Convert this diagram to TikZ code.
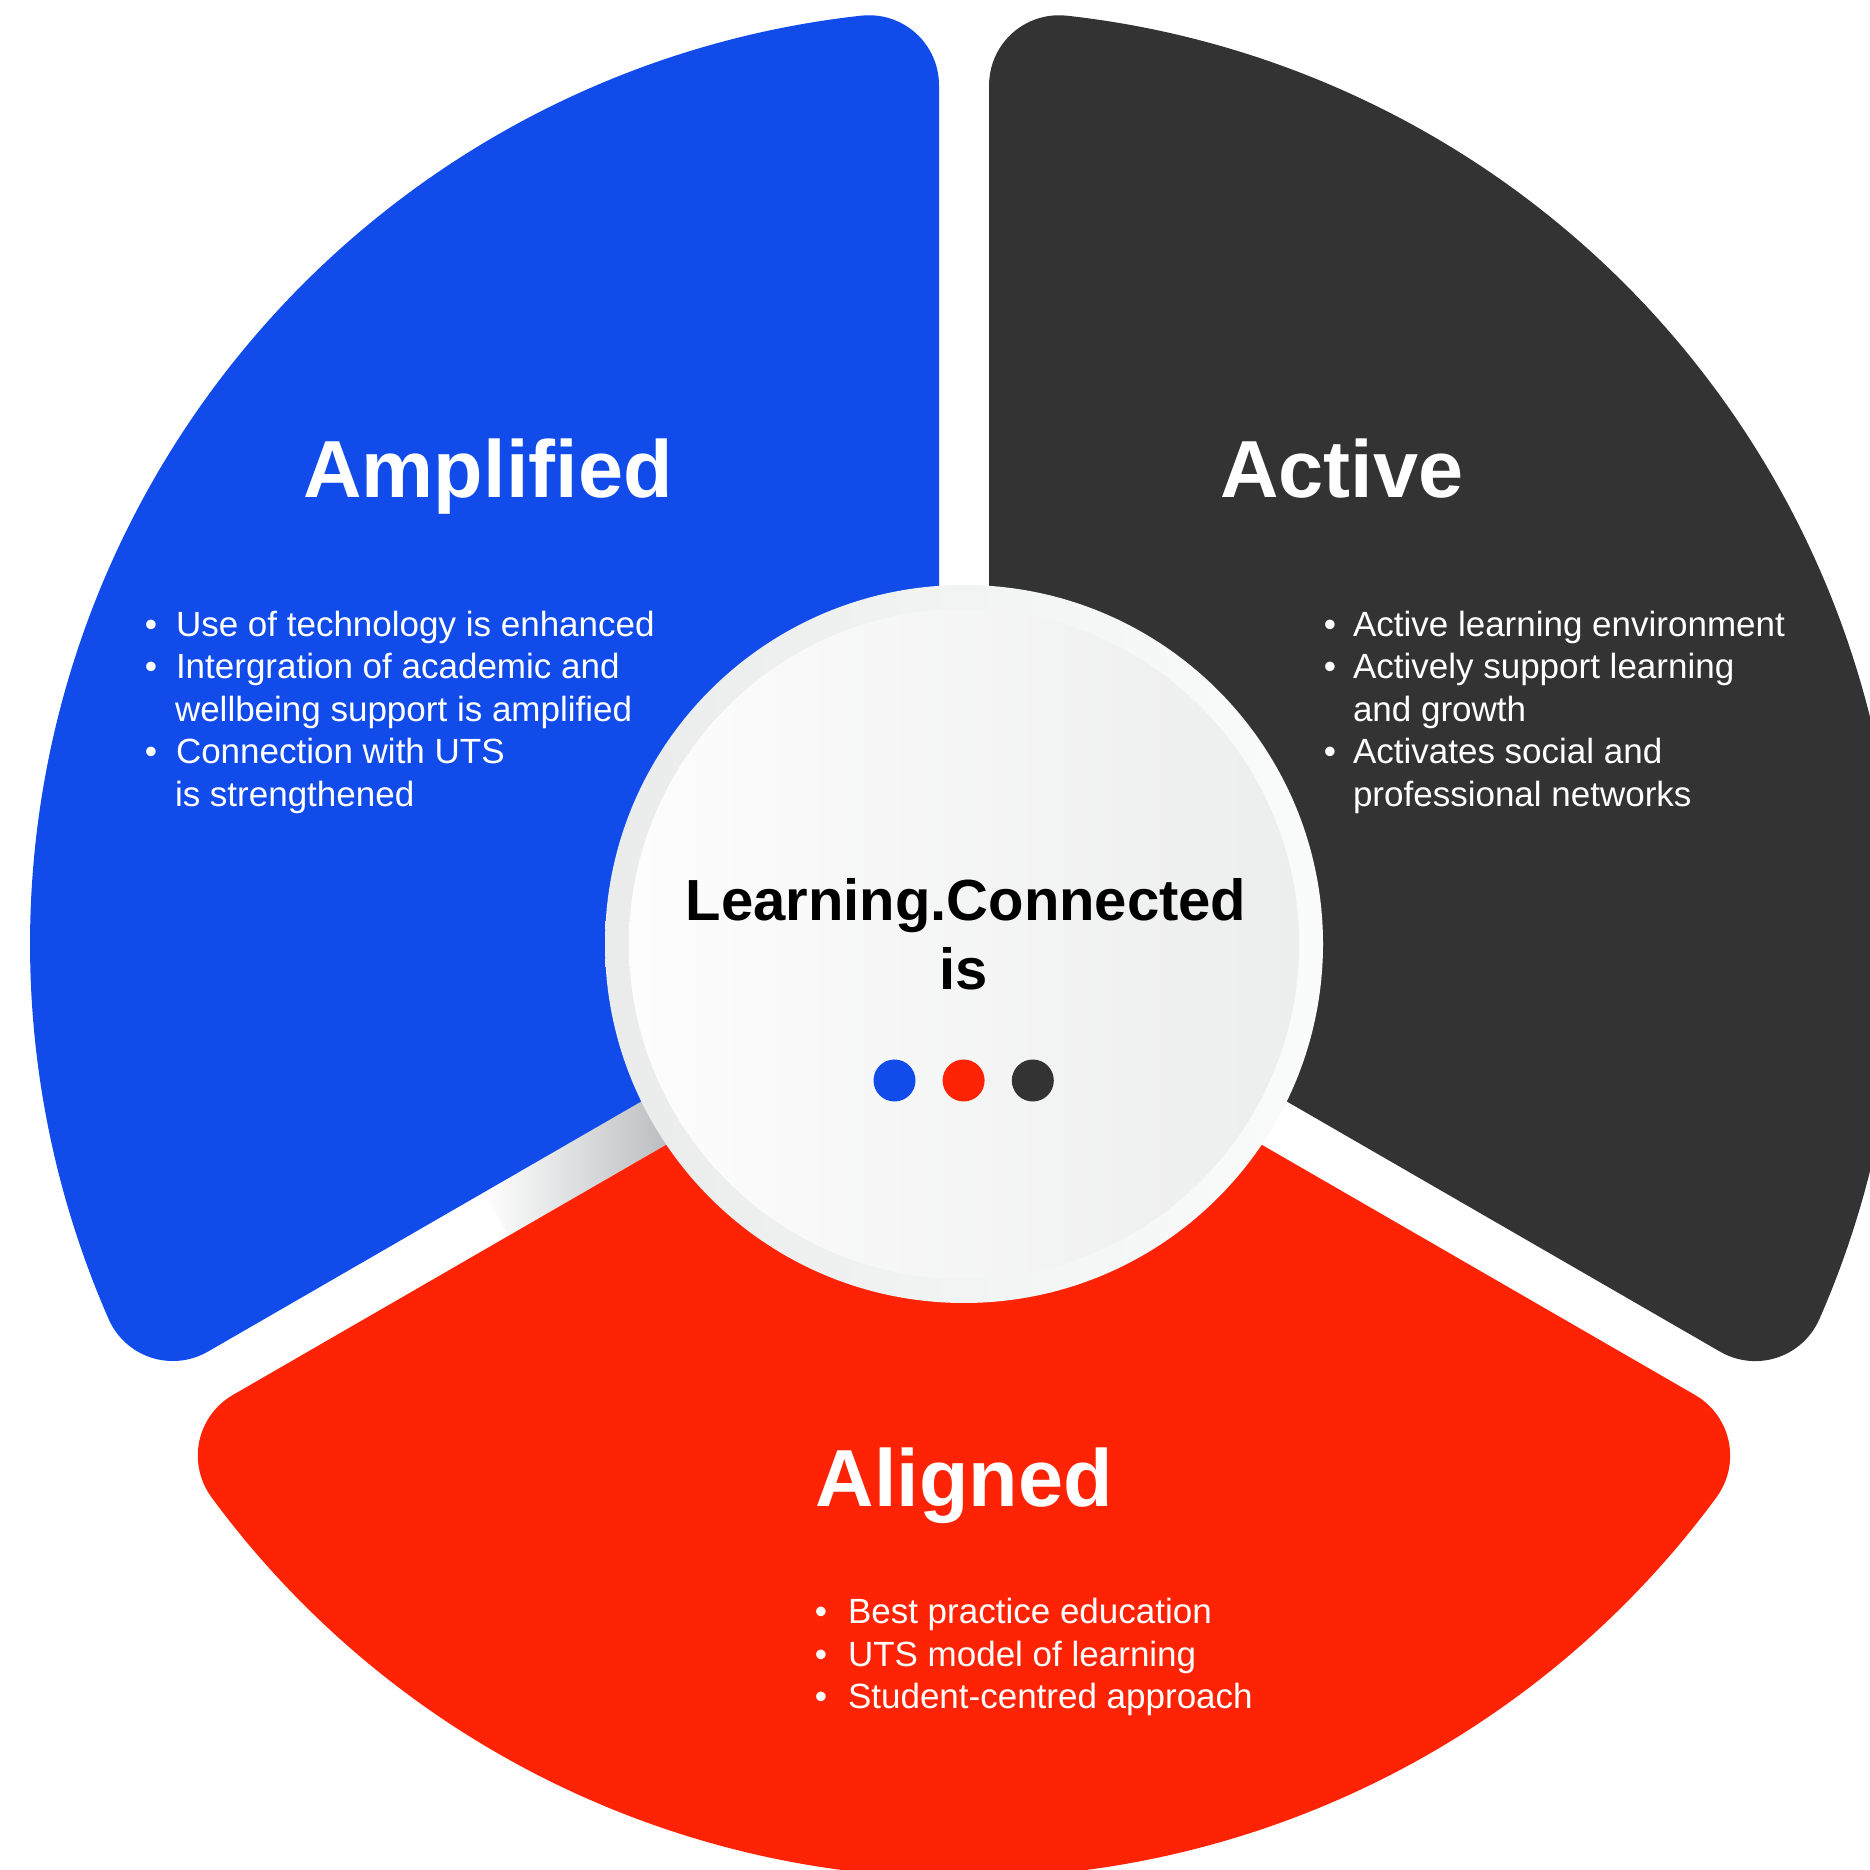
\documentclass[tikz,border=0pt]{standalone}
\usepackage{fontspec}
\setmainfont{Liberation Sans}
\definecolor{segblue}{HTML}{114CEA}
\definecolor{segred}{HTML}{FF2305}
\definecolor{segdark}{HTML}{333333}
\definecolor{ringL}{HTML}{EAECEC}
\definecolor{ringR}{HTML}{FAFBFB}
\definecolor{discL}{HTML}{FDFDFD}
\definecolor{discR}{HTML}{ECEDED}
\definecolor{shadowgray}{HTML}{B9BBBE}
\begin{document}
\begin{tikzpicture}[x=1pt,y=1pt,
  every node/.style={inner sep=0pt, outer sep=0pt},
  titletext/.style={text=white, font=\fontsize{81}{97}\selectfont\bfseries, anchor=base},
  centertext/.style={text=black, font=\fontsize{58}{69}\selectfont\bfseries, anchor=base},
  itemtext/.style={text=white, font=\fontsize{35}{42}\selectfont, anchor=base west},
  bullettext/.style={text=white, font=\fontsize{35}{42}\selectfont, anchor=base}]
\useasboundingbox (0,0) rectangle (1870,1869);
\fill[white] (0,0) rectangle (1870,1869);
\coordinate (C) at (964,925);

% shadow in the lower-left gap
\shade[left color=white, right color=shadowgray]
  (483.8,676.7) -- (508.8,633.4) -- (673.4,728.4) -- (648.4,771.7) -- cycle;

% three segments
\foreach \r/\c in {90/segblue,-30/segdark,210/segred}{
  \fill[\c, shift={(C)}, rotate=\r]
    (14.43,25) -- (858.76,25)
    arc[start angle=-90, end angle=6.313, radius=70]
    arc[start angle=6.313, end angle=113.687, radius=934]
    arc[start angle=113.687, end angle=210, radius=70]
    -- cycle;
}

% central disc
\shade[left color=ringL, right color=ringR] (C) circle[radius=359];
\shade[left color=discL, right color=discR] (C) circle[radius=335];

% titles
\node[titletext] (tamp) at (488,1371) {Amplified};
\node[titletext] (tact) at (1342,1371) {Active};
\node[titletext] (tali) at (964,363) {Aligned};

% centre text
\node[centertext] (lc) at (966,948) {Learning.Connected};
\node[centertext] (is) at (964,879) {is};

% dots
\fill[segblue] (894.5,788.5) circle[radius=21];
\fill[segred] (963.6,788.5) circle[radius=21];
\fill[segdark] (1032.8,788.5) circle[radius=21];

% blue list
\node[bullettext] (ba1) at (151,1232.5) {•};
\node[itemtext] (a1) at (176,1232.5) {Use of technology is enhanced};
\node[bullettext] (ba2) at (151,1190) {•};
\node[itemtext] (a2) at (176,1190) {Intergration of academic and};
\node[itemtext] (a3) at (175,1147.5) {wellbeing support is amplified};
\node[bullettext] (ba4) at (151,1105) {•};
\node[itemtext] (a4) at (176,1105) {Connection with UTS};
\node[itemtext] (a5) at (175,1062.5) {is strengthened};

% dark list
\node[bullettext] (bb1) at (1330,1232.5) {•};
\node[itemtext] (b1) at (1353,1232.5) {Active learning environment};
\node[bullettext] (bb2) at (1330,1190) {•};
\node[itemtext] (b2) at (1353,1190) {Actively support learning};
\node[itemtext] (b3) at (1353,1147.5) {and growth};
\node[bullettext] (bb4) at (1330,1105) {•};
\node[itemtext] (b4) at (1353,1105) {Activates social and};
\node[itemtext] (b5) at (1353,1062.5) {professional networks};

% red list
\node[bullettext] (bc1) at (821,245.5) {•};
\node[itemtext] (c1) at (848,245.5) {Best practice education};
\node[bullettext] (bc2) at (821,203) {•};
\node[itemtext] (c2) at (848,203) {UTS model of learning};
\node[bullettext] (bc3) at (821,160.5) {•};
\node[itemtext] (c3) at (848,160.5) {Student-centred approach};
\end{tikzpicture}
\end{document}
